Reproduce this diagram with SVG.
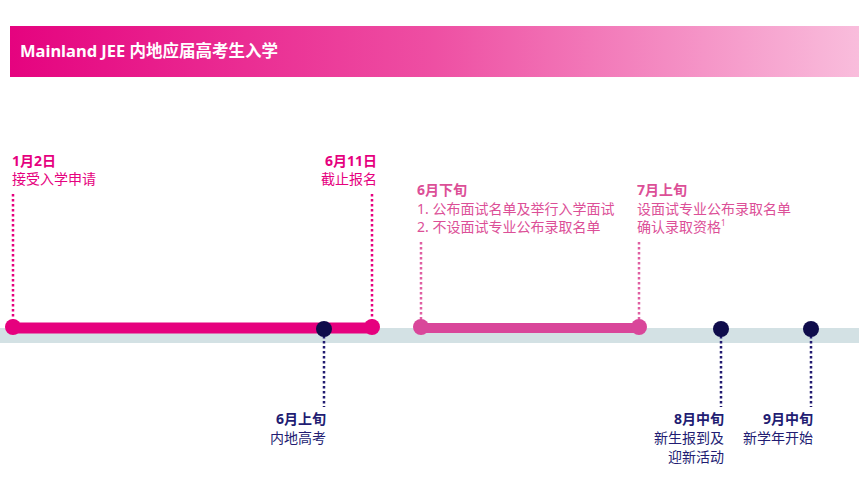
<svg xmlns="http://www.w3.org/2000/svg" width="859" height="484" viewBox="0 0 859 484">
<defs>
<linearGradient id="hdr" x1="0" y1="0" x2="1" y2="0">
<stop offset="0" stop-color="#e5037f"/>
<stop offset="0.5" stop-color="#ee4fa3"/>
<stop offset="1" stop-color="#f9bddc"/>
</linearGradient>
<style>
text{font-family:"Noto Sans","Noto Sans CJK SC",sans-serif;font-size:14px}
.b{font-weight:bold}
.p1{fill:#e6007e}
.p2{fill:#dc4f97}
.nv{fill:#221c72}
.r{text-anchor:end}
.d1{stroke:#e6007e;stroke-width:2.5;stroke-dasharray:2.5 2.5;fill:none}
.d2{stroke:#df5fa2;stroke-width:2.5;stroke-dasharray:2.5 2.5;fill:none}
.dn{stroke:#221c72;stroke-width:2.5;stroke-dasharray:2.5 2.5;fill:none}
</style>
</defs>
<rect width="859" height="484" fill="#ffffff"/>
<g id="header">
<rect x="10" y="26" width="849" height="51" fill="url(#hdr)"/>
<text x="20" y="57" class="b" style="font-size:16.5px" fill="#ffffff">Mainland JEE 内地应届高考生入学</text>
</g>
<g id="track">
<rect x="0" y="328" width="859" height="15" fill="#d3e1e4"/>
</g>
<g id="connectors">
<line class="d1" x1="13" y1="194" x2="13" y2="320"/>
<line class="d1" x1="372" y1="194" x2="372" y2="320"/>
<line class="d2" x1="421" y1="242" x2="421" y2="320"/>
<line class="d2" x1="639" y1="242" x2="639" y2="320"/>
<line class="dn" x1="324" y1="336" x2="324" y2="407"/>
<line class="dn" x1="721" y1="336" x2="721" y2="407"/>
<line class="dn" x1="811" y1="336" x2="811" y2="407"/>
</g>
<g id="period1">
<line x1="13" y1="328" x2="372" y2="328" stroke="#e6007e" stroke-width="11" stroke-linecap="round"/>
<circle cx="13" cy="327" r="8" fill="#e6007e"/>
<circle cx="372" cy="327" r="8" fill="#e6007e"/>
</g>
<g id="period2">
<line x1="421" y1="328" x2="639" y2="328" stroke="#d9469a" stroke-width="10" stroke-linecap="round"/>
<circle cx="421" cy="327" r="8" fill="#d9469a"/>
<circle cx="639" cy="327" r="8" fill="#d9469a"/>
</g>
<g id="node-jan2">
<text x="12" y="166" class="b p1">1月2日</text>
<text x="12" y="184" class="p1">接受入学申请</text>
</g>
<g id="node-jun11">
<text x="377" y="166" class="b p1 r">6月11日</text>
<text x="377" y="184" class="p1 r">截止报名</text>
</g>
<g id="node-jun-late">
<text x="417" y="195" class="b p2">6月下旬</text>
<text x="417" y="214" class="p2">1.  公布面试名单及举行入学面试</text>
<text x="417" y="232" class="p2">2. 不设面试专业公布录取名单</text>
</g>
<g id="node-jul-early">
<text x="637" y="195" class="b p2">7月上旬</text>
<text x="637" y="214" class="p2">设面试专业公布录取名单</text>
<text x="637" y="232" class="p2">确认录取资格<tspan style="font-size:8px" dy="-6">1</tspan></text>
</g>
<g id="node-jun-early">
<circle cx="324" cy="329" r="8" fill="#0f0c4b"/>
<text x="326" y="424" class="b nv r">6月上旬</text>
<text x="326" y="443" class="nv r">内地高考</text>
</g>
<g id="node-aug-mid">
<circle cx="721" cy="329" r="8" fill="#0f0c4b"/>
<text x="724" y="424" class="b nv r">8月中旬</text>
<text x="724" y="443" class="nv r">新生报到及</text>
<text x="724" y="462" class="nv r">迎新活动</text>
</g>
<g id="node-sep-mid">
<circle cx="811" cy="329" r="8" fill="#0f0c4b"/>
<text x="813" y="424" class="b nv r">9月中旬</text>
<text x="813" y="443" class="nv r">新学年开始</text>
</g>
</svg>
